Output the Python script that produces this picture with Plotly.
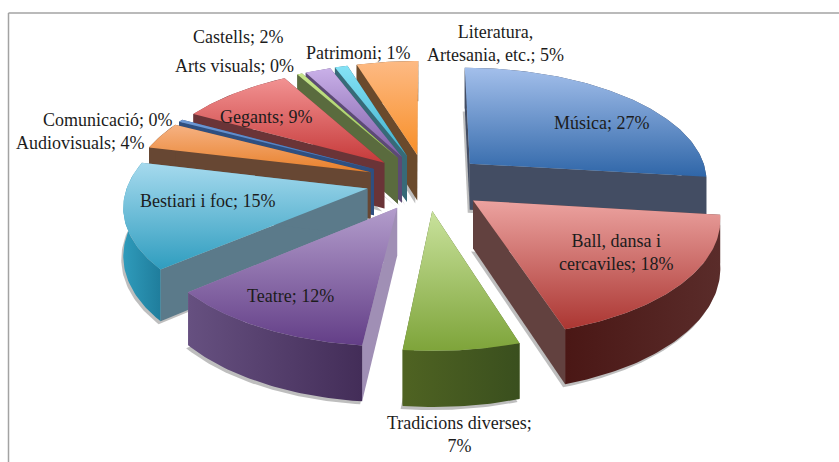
import numpy as np
import plotly.graph_objects as go

categories = ["Música", "Ball, dansa i cercaviles", "Tradicions diverses", "Teatre", "Bestiari i foc",
              "Audiovisuals", "Comunicació", "Gegants", "Arts visuals", "Castells", "Patrimoni",
              "Literatura, Artesania, etc."]
values = [26.8, 18.1, 6.6, 12.1, 14.8, 3.8, 0.4, 8.8, 0.4, 2, 1, 4.8]
labels = ["Música; 27%", "Ball, dansa i<br>cercaviles; 18%", "Tradicions diverses;<br>7%", "Teatre; 12%",
          "Bestiari i foc; 15%", "Audiovisuals; 4%", "Comunicació; 0%", "Gegants; 9%", "Arts visuals; 0%",
          "Castells; 2%", "Patrimoni; 1%", "Literatura,<br>Artesania, etc.; 5%"]

# styling per slice: top gradient (dark, light; y axis is reversed), arc gradient (left, right), radial-face colour
top_colors = [("#2f66a8", "#a3bfeb"), ("#ab3632", "#eca3a0"), ("#7ea43a", "#c9e29c"), ("#633e87", "#b39dcc"),
              ("#2f9dbf", "#a6daee"), ("#e8802a", "#f6b283"), ("#3f6fb5", "#6f9ad6"), ("#c63a3a", "#f29292"),
              ("#9cc65a", "#c6e48a"), ("#7f5ea8", "#c9b0e8"), ("#3fb0cc", "#85e2f6"), ("#f88f28", "#fdba84")]
arc_colors = [("#434d63", "#434d63"), ("#4a1715", "#5a2c2a"), ("#4f6322", "#3a4f1e"), ("#665080", "#432d58"),
              ("#2f9bbb", "#1f7d9c"), ("#674733", "#674733"), ("#2f4f80", "#2f4f80"), ("#6a3437", "#6a3437"),
              ("#5a6b3e", "#5a6b3e"), ("#5c4a75", "#5c4a75"), ("#376a78", "#376a78"), ("#6a4a2c", "#6a4a2c")]
face_colors = ["#434d63", "#62413f", "#4f6322", "#a08fb5", "#5b7a8a", "#674733",
               "#2f4f80", "#6a3437", "#5a6b3e", "#5c4a75", "#376a78", "#6a4a2c"]
paint_order = [11, 10, 9, 8, 7, 6, 5, 0, 4, 3, 1, 2]
label_pos = [(601, 123), (616, 252), (459, 434), (290, 296), (207, 201), (80, 143), (107, 120),
             (266, 117), (234, 66), (238, 37), (358, 53), (495, 43)]

# projection of the tilted, exploded pie
CX, CY, RX, RY, PERSP, EXPLODE, DEPTH = 426, 182, 239, 113, 7.6, 0.25, 47


def project(X, Y, drop=0.0):
    s = PERSP / (PERSP + Y)
    return CX + RX * X * s, CY - RY * Y * s + drop * s


edges = np.concatenate([[0], np.cumsum(values)]) / np.sum(values) * 2 * np.pi
fig = go.Figure()


def poly(x, y, fill=None, grad=None, kind="vertical"):
    kw = dict(x=np.append(x, x[0]), y=np.append(y, y[0]), mode="lines", fill="toself",
              line=dict(width=0), hoverinfo="skip", showlegend=False)
    if grad is not None:
        kw["fillgradient"] = dict(type=kind, colorscale=[[0, grad[0]], [1, grad[1]]])
    else:
        kw["fillcolor"] = fill
    fig.add_trace(go.Scatter(**kw))


for i in paint_order:
    a0, a1 = edges[i], edges[i + 1]
    mid = (a0 + a1) / 2
    ox, oy = EXPLODE * np.sin(mid), EXPLODE * np.cos(mid)
    th = np.linspace(a0, a1, max(int((a1 - a0) * 60), 6))
    ax, ay = ox + np.sin(th), oy + np.cos(th)

    tx, ty = project(ax, ay)
    bx, by = project(ax, ay, DEPTH)
    px, py = project(np.array([ox]), np.array([oy]))
    qx, qy = project(np.array([ox]), np.array([oy]), DEPTH)

    # soft shadow under the slice
    poly(np.concatenate([qx, bx]) - 2, np.concatenate([qy, by]) + 3, fill="rgba(110,110,110,0.45)")

    def arc():
        poly(np.concatenate([tx, bx[::-1]]), np.concatenate([ty, by[::-1]]), grad=arc_colors[i], kind="horizontal")

    def walls():
        for k in (0, -1):
            poly(np.array([px[0], tx[k], bx[k], qx[0]]), np.array([py[0], ty[k], by[k], qy[0]]), fill=face_colors[i])

    if np.cos(mid) > 0:   # back slices: the outer wall sits behind the radial walls
        arc()
        walls()
    else:
        walls()
        arc()
    poly(np.concatenate([px, tx]), np.concatenate([py, ty]), grad=top_colors[i], kind="vertical")

annotations = [dict(x=x, y=y, text=t, showarrow=False, xanchor="center", yanchor="middle", align="center",
                    font=dict(family="Liberation Serif", size=18, color="#1c1c1c"))
               for t, (x, y) in zip(labels, label_pos)]

fig.update_layout(
    width=839, height=462, margin=dict(l=0, r=0, t=0, b=0),
    paper_bgcolor="white", plot_bgcolor="white",
    xaxis=dict(range=[0, 839], visible=False, fixedrange=True),
    yaxis=dict(range=[462, 0], visible=False, fixedrange=True),
    annotations=annotations,
    shapes=[
        dict(type="line", x0=8.5, x1=8.5, y0=13, y1=462, line=dict(color="#a3a3a3", width=1.5)),
        dict(type="line", x0=8.5, x1=839, y0=13, y1=13, line=dict(color="#a3a3a3", width=1.5)),
    ],
)
fig.write_html("out.html", config={"displayModeBar": False},
               post_script="document.body.style.margin='0';document.documentElement.style.overflow='hidden';")
